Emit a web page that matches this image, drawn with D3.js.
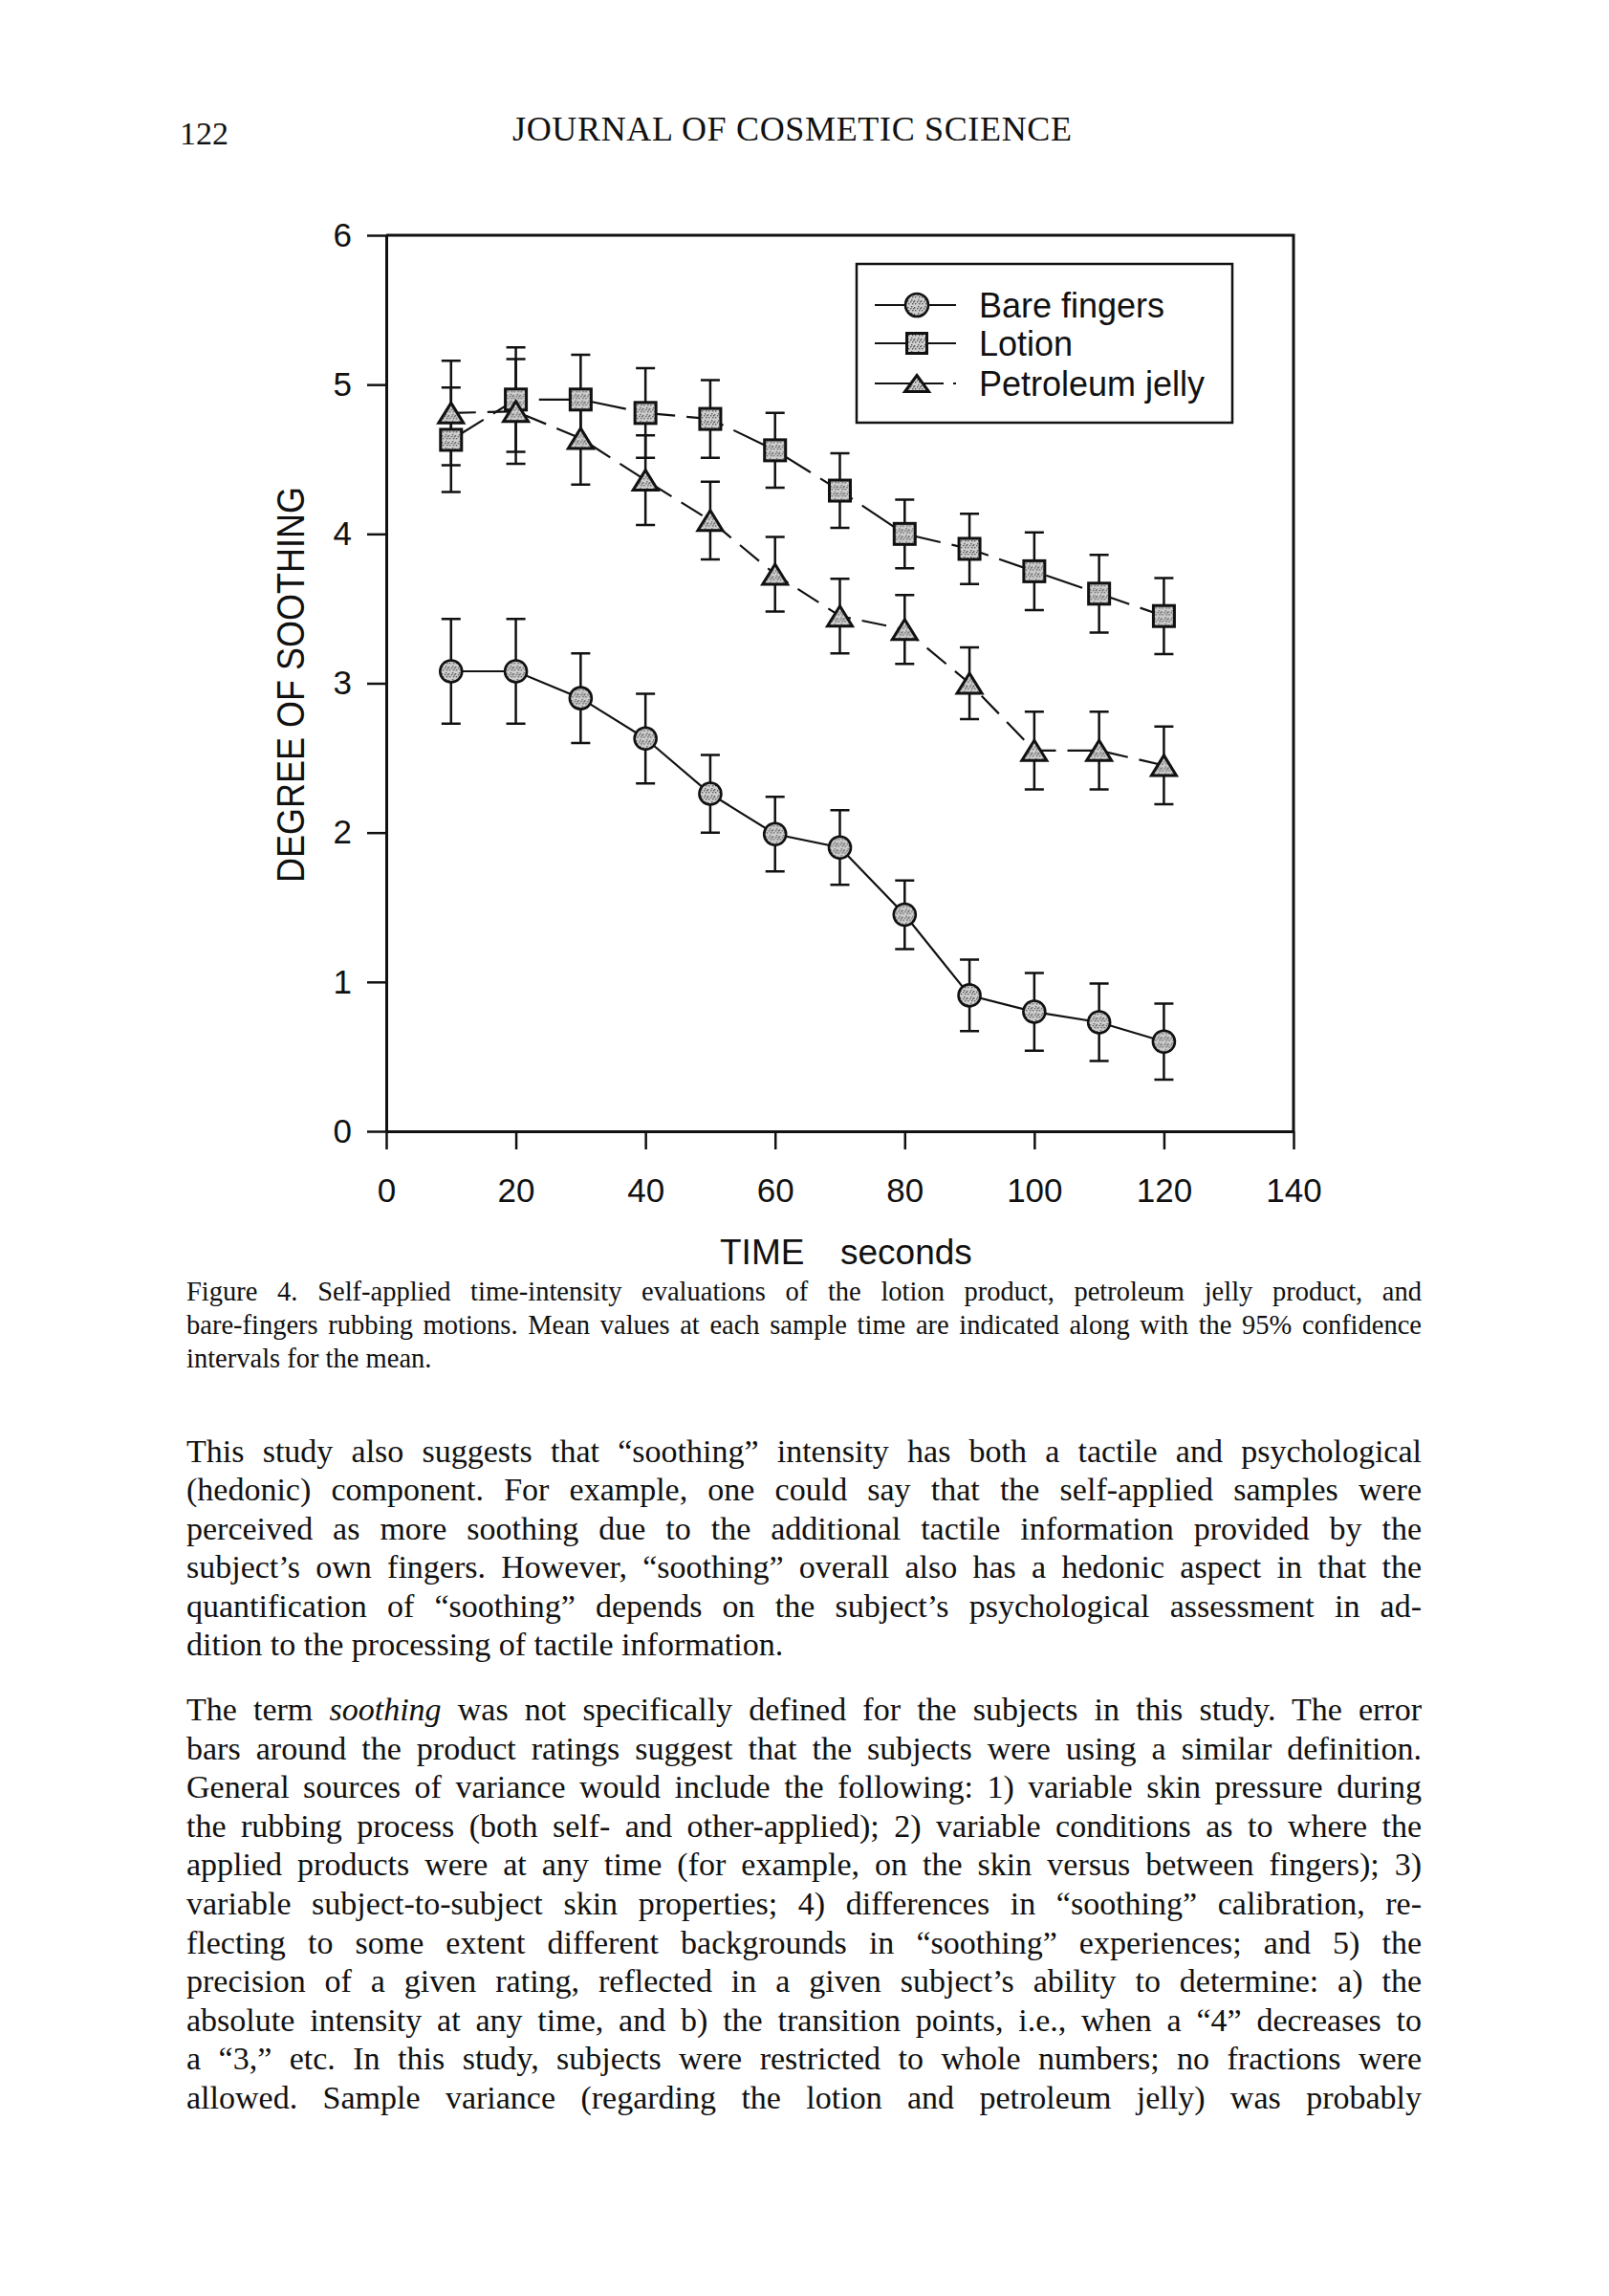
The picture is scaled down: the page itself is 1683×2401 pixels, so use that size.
<!DOCTYPE html>
<html>
<head>
<meta charset="utf-8">
<script src="https://cdn.jsdelivr.net/npm/d3@7"></script>
<style>
  body { margin: 0; background: #fff; }
  svg { display: block; }
</style>
</head>
<body>
<script>
(function() {

	var width = 1683,
		height = 2401;

	// data (time in seconds, mean rating and 95% CI half-width)
	var times = [10, 20, 30, 40, 50, 60, 70, 80, 90, 100, 110, 120];
	var bareMean = [3.08, 3.08, 2.90, 2.63, 2.26, 1.99, 1.90, 1.45, 0.91, 0.80, 0.73, 0.60];
	var bareCI = [0.35, 0.35, 0.30, 0.30, 0.26, 0.25, 0.25, 0.23, 0.24, 0.26, 0.26, 0.255];
	var lotionMean = [4.63, 4.90, 4.90, 4.81, 4.77, 4.56, 4.29, 4.00, 3.90, 3.75, 3.60, 3.45];
	var lotionCI = [0.35, 0.35, 0.30, 0.30, 0.26, 0.25, 0.25, 0.23, 0.235, 0.26, 0.26, 0.255];
	var petroMean = [4.81, 4.82, 4.64, 4.36, 4.09, 3.73, 3.45, 3.36, 3.00, 2.55, 2.55, 2.45];
	var petroCI = [0.35, 0.35, 0.31, 0.30, 0.26, 0.25, 0.25, 0.23, 0.24, 0.26, 0.26, 0.26];

	var seriesNames = ["Bare fingers", "Lotion", "Petroleum jelly"];
	var xTicks = [0, 20, 40, 60, 80, 100, 120, 140];
	var yTicks = [0, 1, 2, 3, 4, 5, 6];

	// page text
	var pageNumber = "122",
		journalTitle = "JOURNAL OF COSMETIC SCIENCE";
	var captionLines = [
		"Figure 4. Self-applied time-intensity evaluations of the lotion product, petroleum jelly product, and",
		"bare-fingers rubbing motions. Mean values at each sample time are indicated along with the 95% confidence",
		"intervals for the mean."
	];
	var para1 = [
		"This study also suggests that \u201csoothing\u201d intensity has both a tactile and psychological",
		"(hedonic) component. For example, one could say that the self-applied samples were",
		"perceived as more soothing due to the additional tactile information provided by the",
		"subject\u2019s own fingers. However, \u201csoothing\u201d overall also has a hedonic aspect in that the",
		"quantification of \u201csoothing\u201d depends on the subject\u2019s psychological assessment in ad-",
		"dition to the processing of tactile information."
	];
	var para2 = [
		"The term |soothing| was not specifically defined for the subjects in this study. The error",
		"bars around the product ratings suggest that the subjects were using a similar definition.",
		"General sources of variance would include the following: 1) variable skin pressure during",
		"the rubbing process (both self- and other-applied); 2) variable conditions as to where the",
		"applied products were at any time (for example, on the skin versus between fingers); 3)",
		"variable subject-to-subject skin properties; 4) differences in \u201csoothing\u201d calibration, re-",
		"flecting to some extent different backgrounds in \u201csoothing\u201d experiences; and 5) the",
		"precision of a given rating, reflected in a given subject\u2019s ability to determine: a) the",
		"absolute intensity at any time, and b) the transition points, i.e., when a \u201c4\u201d decreases to",
		"a \u201c3,\u201d etc. In this study, subjects were restricted to whole numbers; no fractions were",
		"allowed. Sample variance (regarding the lotion and petroleum jelly) was probably"
	];

	var sansFont = "'Liberation Sans', Arial, Helvetica, sans-serif",
		serifFont = "'Liberation Serif', 'Times New Roman', serif",
		ink = "#111";

	var svg = d3.select("body").append("svg")
		.attr("width", width)
		.attr("height", height);

	svg.append("rect").attr("width", width).attr("height", height).attr("fill", "#fff");

	// speckled grey fill used by the markers
	var defs = svg.append("defs");
	var pat = defs.append("pattern")
		.attr("id", "speck")
		.attr("width", 7).attr("height", 7)
		.attr("patternUnits", "userSpaceOnUse");
	pat.append("rect").attr("width", 7).attr("height", 7).attr("fill", "#cfcfcf");
	[[1, 1], [4, 2], [2, 5], [5, 5], [0, 3], [3, 3]].forEach(function(p) {
		pat.append("rect").attr("x", p[0]).attr("y", p[1])
			.attr("width", 1.4).attr("height", 1.4).attr("fill", "#555");
	});

	// ---------- header ----------
	svg.append("text")
		.attr("x", 188).attr("y", 151)
		.attr("font-family", serifFont).attr("font-size", 34)
		.attr("fill", ink)
		.text(pageNumber);

	svg.append("text")
		.attr("x", 536).attr("y", 147)
		.attr("font-family", serifFont).attr("font-size", 36)
		.attr("textLength", 585).attr("lengthAdjust", "spacing")
		.attr("fill", ink)
		.text(journalTitle);

	// ---------- chart ----------
	var x = d3.scaleLinear().domain([0, 140]).range([404, 1353]);
	var y = d3.scaleLinear().domain([0, 6]).range([1183, 246]);

	var chart = svg.append("g");

	// frame top and right
	chart.append("path")
		.attr("d", "M" + x(0) + "," + y(6) + "H" + x(140) + "V" + y(0))
		.attr("fill", "none")
		.attr("stroke", ink)
		.attr("stroke-width", 3);

	var yAxis = chart.append("g")
		.attr("transform", "translate(" + x(0) + ",0)")
		.call(d3.axisLeft(y).tickValues(yTicks).tickFormat(d3.format("d"))
			.tickSize(20).tickSizeOuter(0).tickPadding(16));

	var xAxis = chart.append("g")
		.attr("transform", "translate(0," + y(0) + ")")
		.call(d3.axisBottom(x).tickValues(xTicks).tickFormat(d3.format("d"))
			.tickSize(19).tickSizeOuter(0).tickPadding(30));

	[yAxis, xAxis].forEach(function(ax) {
		ax.select(".domain").attr("stroke", ink).attr("stroke-width", 3);
		ax.selectAll(".tick line").attr("stroke", ink).attr("stroke-width", 2.5);
		ax.selectAll(".tick text")
			.attr("font-family", sansFont)
			.attr("font-size", 35)
			.attr("fill", ink);
	});

	// axis titles
	chart.append("text")
		.attr("transform", "translate(318,716) rotate(-90)")
		.attr("text-anchor", "middle")
		.attr("font-family", sansFont).attr("font-size", 41)
		.attr("textLength", 414).attr("lengthAdjust", "spacingAndGlyphs")
		.attr("fill", ink)
		.text("DEGREE OF SOOTHING");

	var xTitle = chart.append("text")
		.attr("y", 1322)
		.attr("font-family", sansFont).attr("font-size", 37)
		.attr("fill", ink);
	xTitle.append("tspan").attr("x", 753).text("TIME");
	xTitle.append("tspan").attr("x", 879).text("seconds");

	var series = [
		{ name: seriesNames[0], mean: bareMean, ci: bareCI, shape: "circle", dash: null },
		{ name: seriesNames[1], mean: lotionMean, ci: lotionCI, shape: "square", dash: "40,12" },
		{ name: seriesNames[2], mean: petroMean, ci: petroCI, shape: "triangle", dash: "26,12" }
	];

	series.forEach(function(s) {
		s.points = times.map(function(t, i) {
			return { t: t, m: s.mean[i], ci: s.ci[i] };
		});
	});

	// error bars
	var capHalf = 10;
	series.forEach(function(s) {
		var g = chart.append("g").attr("stroke", ink).attr("stroke-width", 2.5).attr("fill", "none");
		g.selectAll("path")
			.data(s.points)
			.enter()
			.append("path")
			.attr("d", function(d) {
				var cx = x(d.t), y0 = y(d.m - d.ci), y1 = y(d.m + d.ci);
				return "M" + cx + "," + y0 + "V" + y1 +
					"M" + (cx - capHalf) + "," + y1 + "H" + (cx + capHalf) +
					"M" + (cx - capHalf) + "," + y0 + "H" + (cx + capHalf);
			});
	});

	// connecting lines
	var line = d3.line()
		.x(function(d) { return x(d.t); })
		.y(function(d) { return y(d.m); });

	series.forEach(function(s) {
		chart.append("path")
			.datum(s.points)
			.attr("d", line)
			.attr("fill", "none")
			.attr("stroke", ink)
			.attr("stroke-width", 2.2)
			.attr("stroke-dasharray", s.dash);
	});

	function drawMarker(sel, shape, size) {
		if (shape === "circle") {
			sel.append("circle").attr("r", size.r)
				.attr("fill", "url(#speck)").attr("stroke", ink).attr("stroke-width", 2.6);
		} else if (shape === "square") {
			sel.append("rect")
				.attr("x", -size.sq / 2).attr("y", -size.sq / 2)
				.attr("width", size.sq).attr("height", size.sq)
				.attr("fill", "url(#speck)").attr("stroke", ink).attr("stroke-width", 3);
		} else {
			var w = size.tw / 2, h = size.th / 2;
			sel.append("path")
				.attr("d", "M0," + (-h) + "L" + w + "," + h + "L" + (-w) + "," + h + "Z")
				.attr("fill", "url(#speck)").attr("stroke", ink).attr("stroke-width", 3)
				.attr("stroke-linejoin", "miter");
		}
	}

	var plotSize = { r: 11.5, sq: 22, tw: 26, th: 21 };

	series.forEach(function(s) {
		chart.append("g").selectAll("g")
			.data(s.points)
			.enter()
			.append("g")
			.attr("transform", function(d) { return "translate(" + x(d.t) + "," + y(d.m) + ")"; })
			.each(function() { drawMarker(d3.select(this), s.shape, plotSize); });
	});

	// legend
	var legend = chart.append("g");
	legend.append("rect")
		.attr("x", 896).attr("y", 276)
		.attr("width", 393).attr("height", 166)
		.attr("fill", "#fff")
		.attr("stroke", ink).attr("stroke-width", 2.5);

	var legendRows = [319, 359, 401];
	var legendDash = [null, null, "72,10,3,200"];
	var legendSize = { r: 12, sq: 21, tw: 25, th: 17 };

	series.forEach(function(s, i) {
		var ry = legendRows[i];
		legend.append("line")
			.attr("x1", 915).attr("x2", 1000)
			.attr("y1", ry).attr("y2", ry)
			.attr("stroke", ink).attr("stroke-width", 2.2)
			.attr("stroke-dasharray", legendDash[i]);
		var mg = legend.append("g").attr("transform", "translate(959," + ry + ")");
		drawMarker(mg, s.shape, legendSize);
		legend.append("text")
			.attr("x", 1024).attr("y", ry + 13)
			.attr("font-family", sansFont).attr("font-size", 36)
			.attr("fill", ink)
			.text(s.name);
	});

	// ---------- caption and body text ----------
	var textLeft = 195,
		textRight = 1487;

	function justifiedLine(str, yPos, size, justify) {
		var t = svg.append("text")
			.attr("x", textLeft).attr("y", yPos)
			.attr("font-family", serifFont).attr("font-size", size)
			.attr("fill", ink)
			.attr("xml:space", "preserve");
		// segments between | are italic
		str.split("|").forEach(function(seg, k) {
			var ts = t.append("tspan").text(seg);
			if (k % 2 === 1) ts.attr("font-style", "italic");
		});
		if (justify) {
			var natural = t.node().getComputedTextLength();
			var spaces = (str.match(/ /g) || []).length;
			var extra = (textRight - textLeft) - natural;
			if (spaces > 0 && extra > 0) {
				t.attr("word-spacing", extra / spaces);
			} else if (extra < 0) {
				t.attr("textLength", textRight - textLeft).attr("lengthAdjust", "spacingAndGlyphs");
			}
		}
	}

	var captionY = [1360, 1395, 1430];
	captionLines.forEach(function(l, i) {
		justifiedLine(l, captionY[i], 28.5, i < captionLines.length - 1);
	});

	para1.forEach(function(l, i) {
		justifiedLine(l, 1529 + i * 40.4, 34, i < para1.length - 1);
	});

	para2.forEach(function(l, i) {
		justifiedLine(l, 1799 + i * 40.6, 34, true);
	});

})();
</script>
</body>
</html>
